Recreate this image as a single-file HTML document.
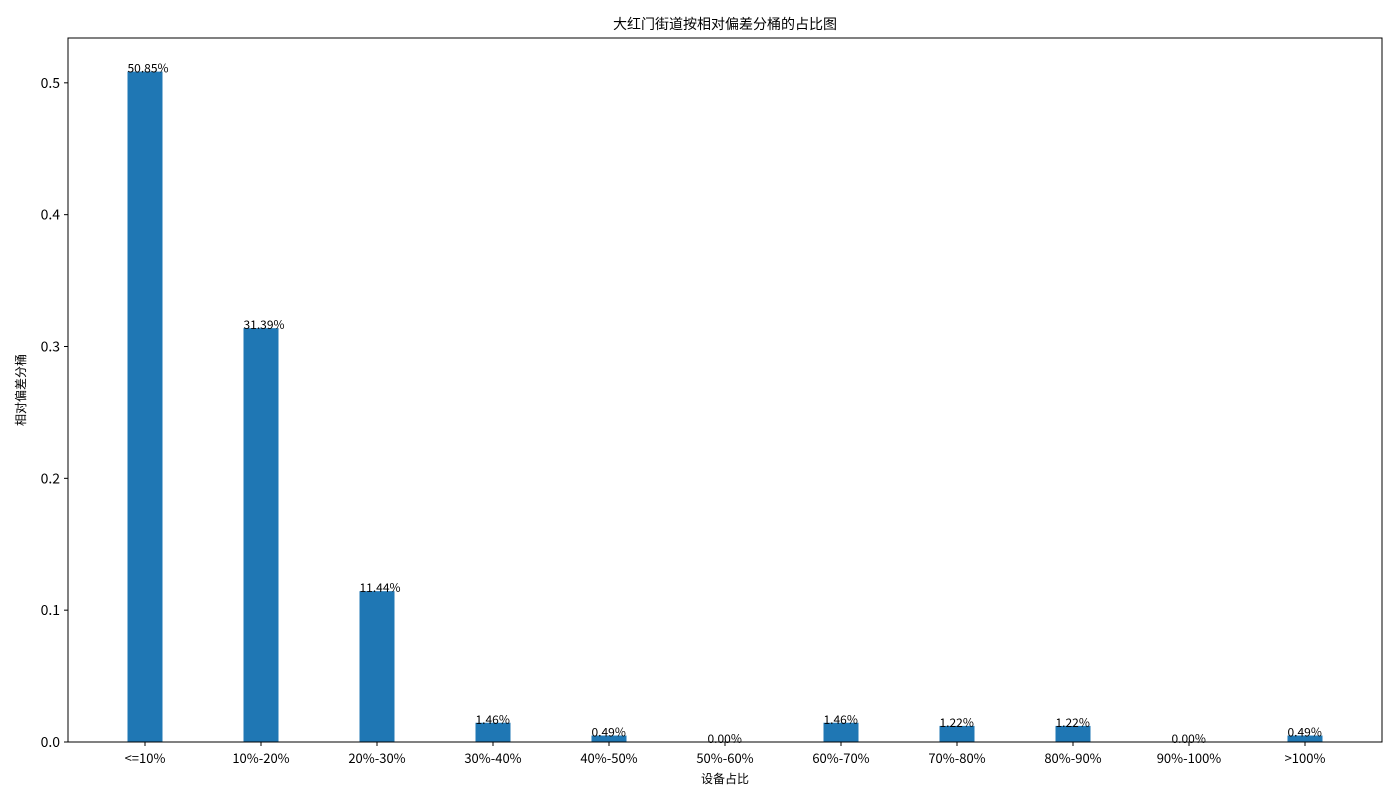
<!DOCTYPE html>
<html><head><meta charset="utf-8">
<style>
html,body{margin:0;padding:0;background:#fff;}
svg{display:block;font-family:"WenQuanYi Zen Hei","Noto Sans CJK SC",sans-serif;}
</style></head>
<body>
<svg id="chart" width="1400" height="800" viewBox="0 0 1400 800"></svg>
<script>
const categories = ["<=10%","10%-20%","20%-30%","30%-40%","40%-50%","50%-60%","60%-70%","70%-80%","80%-90%","90%-100%",">100%"];
const values = [0.5085,0.3139,0.1144,0.0146,0.0049,0.0,0.0146,0.0122,0.0122,0.0,0.0049];
const valueLabels = ["50.85%","31.39%","11.44%","1.46%","0.49%","0.00%","1.46%","1.22%","1.22%","0.00%","0.49%"];
const yTicks = [0,0.1,0.2,0.3,0.4,0.5];
const yTickLabels = ["0.0","0.1","0.2","0.3","0.4","0.5"];

const svg = document.getElementById('chart');
const NS = 'http://www.w3.org/2000/svg';
const L=68,R=1382,T=38,B=742,YMAX=0.534;
const y = v => B - v/YMAX*(B-T);
const x = i => 145 + i*116;
const BW = 35;
function el(tag, attrs, text){
  const e=document.createElementNS(NS,tag);
  for(const k in attrs) e.setAttribute(k,attrs[k]);
  if(text!==undefined) e.textContent=text;
  svg.appendChild(e); return e;
}
values.forEach((v,i)=>{
  const b=el('rect',{x:x(i)-BW/2,y:y(v),width:BW,height:B-y(v),fill:'#1f77b4'});
  
  
  const t=el('text',{x:x(i)-BW/2,y:y(v)+1,'font-size':'12',fill:'#000'},valueLabels[i]);
  
  
  el('line',{x1:x(i),x2:x(i),y1:B,y2:B+4,stroke:'#000','stroke-width':1});
  const xl=el('text',{x:x(i),y:B+21,'font-size':'13','text-anchor':'middle'},categories[i]);
  
  
});
yTicks.forEach((v,i)=>{
  el('line',{x1:L-4,x2:L,y1:y(v),y2:y(v),stroke:'#000','stroke-width':1});
  const yl=el('text',{x:L-8,y:y(v)+5,'font-size':'14','text-anchor':'end'},yTickLabels[i]);
  
  
});
const frame=el('rect',{x:L,y:T,width:R-L,height:B-T,fill:'none',stroke:'#000','stroke-width':1});


const title=el('text',{x:(L+R)/2,y:29,'font-size':'14','text-anchor':'middle'},'大红门街道按相对偏差分桶的占比图');


const xt=el('text',{x:(L+R)/2,y:783,'font-size':'12','text-anchor':'middle'},'设备占比');


const yt=el('text',{x:0,y:0,'font-size':'12','text-anchor':'middle',transform:'translate(25,390) rotate(-90)'},'相对偏差分桶');


</script>
</body></html>
